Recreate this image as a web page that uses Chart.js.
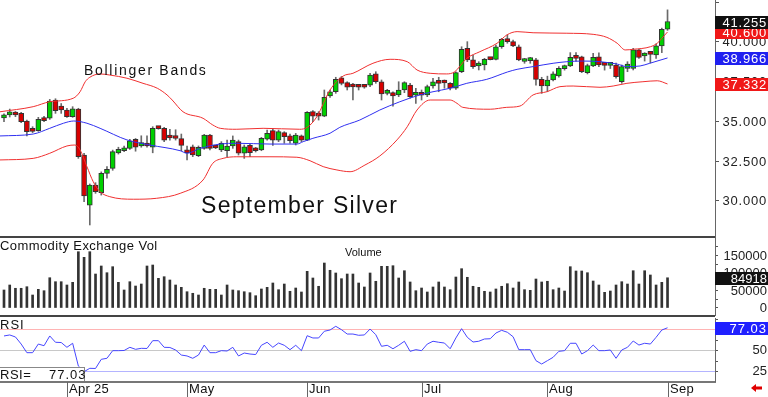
<!DOCTYPE html>
<html>
<head>
<meta charset="utf-8">
<script src="https://cdn.jsdelivr.net/npm/chart.js@4.4.1/dist/chart.umd.min.js"></script>
<style>
  body { margin: 0; background: #fff; }
  #wrap { position: relative; width: 768px; height: 397px; overflow: hidden; }
  canvas { position: absolute; left: 0; }
</style>
</head>
<body>
<div id="wrap">
  <canvas id="price" width="768" height="238" style="top:0"></canvas>
  <canvas id="vol" width="768" height="80" style="top:238px"></canvas>
  <canvas id="rsi" width="768" height="79" style="top:318px"></canvas>
</div>
<script>
// September silver, daily bars Mar 17 .. Sep 2 (index 0..116)
const opens = [35.20, 35.38, 35.52, 35.48, 35.00, 34.48, 34.39, 35.17, 35.17, 36.32,
  35.94, 35.69, 35.27, 35.75, 32.86, 29.71, 30.97, 30.49, 31.71, 32.02,
  33.00, 33.13, 33.28, 33.85, 33.43, 33.60, 33.35, 34.58, 34.54, 34.06,
  34.00, 33.89, 33.10, 33.38, 32.82, 33.28, 34.12, 33.34, 33.18, 33.13,
  33.43, 33.70, 32.97, 33.47, 33.26, 33.18, 33.85, 34.39, 33.80, 34.27,
  34.06, 33.60, 34.06, 33.80, 35.59, 35.48, 35.31, 36.57, 36.84, 37.72,
  37.41, 37.18, 37.18, 37.20, 37.26, 37.96, 37.47, 36.74, 36.78, 36.64,
  36.95, 37.26, 36.62, 36.74, 36.64, 37.20, 37.47, 37.43, 37.37, 37.06,
  38.10, 39.57, 38.84, 38.46, 38.52, 38.90, 38.88, 39.67, 40.09, 39.99,
  39.67, 38.74, 38.80, 38.84, 37.62, 37.20, 37.58, 37.83, 38.29, 38.46,
  39.04, 39.04, 38.04, 38.46, 39.04, 38.54, 38.50, 38.52, 37.47, 38.31,
  38.31, 39.47, 39.09, 39.23, 39.15, 39.72, 40.77];
const highs = [35.45, 35.75, 35.60, 35.55, 35.06, 34.64, 35.23, 35.30, 36.36, 36.40,
  36.10, 35.80, 35.90, 35.80, 32.97, 31.04, 31.12, 31.80, 32.13, 33.17,
  33.35, 33.42, 33.85, 33.90, 34.07, 34.07, 34.64, 34.64, 34.60, 34.48,
  34.45, 34.18, 33.43, 33.49, 33.43, 34.16, 34.16, 33.38, 33.70, 33.80,
  34.06, 33.80, 33.49, 33.55, 33.34, 33.97, 34.43, 34.54, 34.43, 34.33,
  34.18, 34.22, 34.12, 35.59, 35.65, 35.59, 36.95, 36.95, 37.75, 37.80,
  37.47, 37.37, 37.26, 37.26, 38.00, 38.10, 37.58, 36.99, 36.84, 37.47,
  37.47, 37.37, 37.06, 36.95, 37.26, 37.69, 37.75, 37.58, 37.41, 38.10,
  39.67, 39.99, 39.15, 38.73, 38.94, 39.00, 39.78, 40.20, 40.41, 40.09,
  39.78, 38.94, 39.00, 38.94, 37.75, 37.82, 38.10, 38.42, 38.52, 39.30,
  39.30, 39.08, 38.58, 39.25, 39.29, 38.65, 38.65, 38.65, 38.52, 38.73,
  39.57, 39.51, 39.30, 39.25, 39.85, 40.84, 41.99];
const lows = [34.95, 35.25, 35.27, 34.90, 34.06, 34.27, 34.35, 34.95, 35.10, 35.48,
  35.48, 35.22, 35.23, 32.65, 29.92, 28.46, 30.45, 30.34, 31.40, 31.90,
  32.92, 33.07, 33.22, 33.10, 33.35, 33.35, 33.00, 34.48, 33.70, 33.80,
  33.80, 33.13, 32.55, 32.76, 32.76, 33.22, 33.18, 33.26, 33.07, 32.72,
  33.28, 32.86, 32.65, 32.76, 33.05, 33.13, 33.80, 33.47, 33.70, 33.60,
  33.60, 33.49, 33.70, 33.76, 34.96, 35.06, 35.27, 36.49, 36.74, 37.27,
  36.95, 36.32, 36.95, 37.06, 37.16, 37.37, 36.32, 36.64, 35.94, 36.53,
  36.78, 36.43, 36.11, 36.32, 36.53, 37.06, 36.84, 37.06, 36.95, 36.99,
  38.04, 38.73, 38.31, 38.21, 38.21, 38.84, 38.84, 39.57, 39.89, 39.67,
  38.79, 38.63, 38.63, 37.26, 36.74, 36.84, 37.52, 37.75, 38.20, 38.42,
  38.77, 38.04, 37.96, 38.42, 38.42, 38.20, 38.30, 37.69, 37.37, 38.10,
  38.21, 38.94, 38.77, 38.65, 38.94, 39.30, 40.70];
const closes = [35.30, 35.58, 35.38, 34.96, 34.33, 34.35, 35.10, 35.02, 36.26, 35.65,
  35.69, 35.27, 35.77, 32.75, 30.28, 30.97, 30.55, 31.71, 31.96, 33.07,
  33.22, 33.28, 33.76, 33.35, 33.64, 33.43, 34.54, 34.52, 33.80, 33.93,
  33.90, 33.47, 33.00, 32.86, 33.34, 34.12, 33.28, 33.30, 33.60, 33.43,
  33.80, 32.97, 33.38, 33.01, 33.13, 33.91, 34.22, 33.80, 34.33, 34.01,
  33.76, 34.12, 33.80, 35.55, 35.31, 35.31, 36.49, 36.84, 37.62, 37.37,
  37.12, 37.14, 37.12, 37.12, 37.89, 37.47, 36.70, 36.91, 36.57, 36.95,
  37.41, 36.53, 36.78, 36.62, 37.16, 37.47, 37.37, 37.39, 37.06, 38.04,
  39.51, 38.84, 38.42, 38.58, 38.88, 38.86, 39.67, 40.14, 39.99, 39.72,
  38.84, 38.80, 38.86, 37.62, 37.20, 37.58, 37.96, 38.31, 38.46, 39.00,
  38.94, 38.10, 38.48, 39.00, 38.52, 38.50, 38.54, 37.79, 38.42, 38.58,
  39.47, 39.00, 39.26, 39.19, 39.72, 40.77, 41.255];

const volumes = [50000, 64300, 54900, 54900, 59400, 35700, 52000, 48000, 85100, 73700,
  73700, 64300, 72000, 159400, 143400, 159400, 95700, 118600, 99400, 116600,
  72000, 50000, 73700, 61400, 67100, 118600, 121400, 83400, 88000, 78600,
  64300, 57700, 45100, 40600, 35700, 54900, 52000, 52000, 35700, 64300,
  50000, 48000, 45100, 42300, 33700, 52900, 57700, 70000, 50900, 67100,
  46300, 55700, 44300, 103400, 84300, 60600, 127100, 106300, 98600, 82300,
  95700, 95700, 70000, 58600, 98600, 74900, 117700, 117700, 119400, 84300,
  105100, 72900, 48000, 55700, 44300, 58600, 72900, 58600, 50900, 87100,
  110900, 86300, 60600, 57700, 46300, 44300, 52900, 60600, 68000, 55700,
  72900, 50900, 49100, 81400, 72900, 74900, 50900, 55700, 47100, 116600,
  104300, 104300, 99400, 75700, 64300, 43400, 47100, 64300, 73700, 67100,
  105100, 67100, 105100, 92900, 64300, 72000, 84918];

const rsiValues = [67.3, 68.5, 66.1, 57.7, 47.4, 47.4, 57.7, 55.7, 67.3, 59.8,
  59.5, 53.8, 58.6, 31.5, 24.8, 28.8, 28.6, 39.5, 40.7, 49.8,
  49.8, 50.0, 53.8, 51.4, 52.6, 52.4, 61.7, 61.7, 53.8, 53.6,
  50.6, 44.6, 43.5, 40.7, 44.6, 56.5, 47.4, 47.4, 49.8, 49.4,
  53.8, 43.5, 47.0, 45.8, 45.2, 56.2, 59.8, 53.8, 58.9, 56.2,
  51.0, 56.2, 49.8, 67.6, 64.9, 64.9, 72.9, 74.4, 78.8, 74.8,
  69.6, 69.6, 68.1, 68.5, 75.6, 68.8, 55.0, 56.2, 52.1, 56.2,
  61.0, 49.0, 51.0, 49.8, 57.7, 61.0, 59.8, 58.9, 52.1, 64.9,
  76.0, 65.7, 60.1, 61.0, 63.7, 64.0, 70.8, 74.0, 71.7, 66.4,
  51.0, 51.0, 51.0, 37.9, 33.9, 37.9, 41.9, 49.0, 49.8, 58.6,
  58.6, 45.8, 49.8, 56.5, 49.8, 49.8, 50.6, 40.7, 50.6, 53.8,
  61.3, 56.5, 58.6, 57.7, 65.7, 74.4, 77.03];

// Bollinger bands as [bar index, price]
const upperBand = [[-0.7, 35.58], [5.1, 35.90], [8.0, 36.21], [12.1, 36.43], [13.3, 36.84], [14.2, 37.47],
  [15.0, 37.75], [16.8, 37.96], [18.5, 37.89], [21.5, 37.69], [24.3, 37.37], [26.8, 37.06], [28.5, 36.64],
  [29.4, 36.32], [31.3, 35.58], [34.8, 35.17], [36.5, 34.75], [37.8, 34.54], [40.7, 34.48], [45.3, 34.54],
  [51.7, 34.48], [53.0, 34.60], [54.7, 35.27], [57.0, 36.95], [59.3, 37.83], [61.0, 38.00], [64.5, 38.63],
  [67.5, 38.88], [70.5, 38.73], [72.2, 38.21], [74.5, 38.00], [77.4, 37.96], [78.8, 38.10], [80.9, 38.94],
  [83.2, 39.36], [86.2, 39.89], [87.9, 40.41], [89.7, 40.62], [92.5, 40.55], [98.4, 40.52], [103.0, 40.45],
  [105.4, 40.26], [107.2, 39.89], [108.6, 39.47], [110.0, 39.51], [113.0, 39.67], [114.2, 39.89],
  [115.0, 40.20], [116, 40.60]];
const midBand = [[-0.7, 34.06], [5.1, 34.18], [8.0, 34.54], [10.4, 34.86], [12.2, 35.00], [14.5, 34.86],
  [16.8, 34.54], [21.5, 33.81], [25.5, 33.49], [30.8, 33.13], [32.0, 32.97], [34.3, 33.28], [37.8, 33.55],
  [40.7, 33.60], [46.5, 33.55], [51.2, 33.55], [52.3, 33.70], [54.0, 33.91], [57.0, 34.23], [58.7, 34.60],
  [62.2, 35.06], [65.7, 35.69], [69.2, 36.21], [72.7, 36.64], [75.0, 36.84], [78.0, 37.06], [80.9, 37.37],
  [84.4, 37.62], [88.0, 38.08], [89.7, 38.25], [92.5, 38.42], [96.0, 38.63], [98.4, 38.73], [101.2, 38.77],
  [104.2, 38.73], [107.2, 38.58], [108.9, 38.42], [111.2, 38.46], [112.9, 38.63], [116, 38.966]];
const lowerBand = [[-0.7, 32.55], [5.1, 32.65], [8.0, 32.97], [11.0, 33.43], [12.4, 33.49], [13.3, 33.18],
  [14.5, 32.13], [15.6, 31.18], [16.8, 30.55], [18.5, 30.24], [22.6, 30.08], [26.7, 30.14], [30.8, 30.45],
  [34.8, 31.29], [36.5, 32.34], [38.3, 32.65], [40.7, 32.75], [46.5, 32.75], [51.2, 32.72], [53.5, 32.50],
  [55.8, 32.13], [58.2, 31.92], [60.5, 31.81], [63.1, 32.23], [65.7, 32.80], [68.7, 33.81], [70.5, 34.64],
  [72.2, 35.69], [74.5, 36.32], [78.0, 36.32], [79.2, 36.11], [80.2, 35.86], [85.0, 35.74], [87.9, 35.86],
  [90.2, 35.94], [92.5, 36.64], [94.9, 36.84], [97.2, 37.16], [99.5, 37.20], [104.2, 37.12], [106.5, 37.20],
  [108.9, 37.37], [111.7, 37.47], [114.2, 37.53], [116, 37.33]];

const monthIdx = [11, 32, 53, 73, 95, 116];
const monthLabels = ["Apr 25", "May", "Jun", "Jul", "Aug", "Sep"];
const priceTicks = [30, 32.5, 35, 37.5, 40];
const volTicks = [0, 50000, 100000, 150000];
const rsiTicks = [25, 50];
const rsiLevels = [75, 50, 25];
const lastUpper = 40.600, lastMid = 38.966, lastLower = 37.332;

const FONT = '"Liberation Sans", Arial, sans-serif';
const UP = "#00d000", DOWN = "#d80000";
const AXIS_X = 715;

function drawText(ctx, s, x, y, size, color, align, spacing) {
  ctx.font = size + "px " + FONT;
  ctx.fillStyle = color;
  ctx.textAlign = align || "left";
  ctx.textBaseline = "alphabetic";
  ctx.letterSpacing = (spacing || 0) + "px";
  ctx.fillText(s, x, y);
  ctx.letterSpacing = "0px";
}

function valueBox(ctx, text, y, bg) {
  const yy = Math.round(y);
  ctx.fillStyle = bg;
  ctx.fillRect(AXIS_X, yy - 6, 53, 13);
  drawText(ctx, text, 767, yy + 5, 13, "#fff", "right", 0.8);
}

function axisTicks(ctx, scale, values, len) {
  ctx.fillStyle = "#555";
  values.forEach(v => ctx.fillRect(AXIS_X + 1, Math.round(scale.getPixelForValue(v)), len, 1));
}

function baseOptions(yMin, yMax, padding) {
  return {
    responsive: false,
    animation: false,
    events: [],
    layout: { padding },
    plugins: { legend: { display: false }, tooltip: { enabled: false } },
    scales: {
      x: { type: "linear", min: -0.7, max: 124.3, offset: false, display: false },
      y: { min: yMin, max: yMax, display: false }
    }
  };
}

const toPts = arr => arr.map(p => ({ x: p[0], y: p[1] }));
const bandLine = (arr, color) => ({
  type: "line", data: toPts(arr), borderColor: color, borderWidth: 1,
  pointRadius: 0, cubicInterpolationMode: "monotone", order: 0
});

// ---- price panel ----
const bodies = closes.map((c, i) => ({ x: i, y: [opens[i], c] }));
const wicks = closes.map((c, i) => ({ x: i, y: [lows[i], highs[i]] }));
const bodyColors = closes.map((c, i) => c >= opens[i] ? UP : DOWN);

const pricePlugin = {
  id: "priceDeco",
  afterDraw(chart) {
    const ctx = chart.ctx, y = chart.scales.y;
    ctx.save();
    ctx.fillStyle = "#444";
    ctx.fillRect(0, 236, AXIS_X, 2);
    ctx.fillStyle = "#666";
    ctx.fillRect(AXIS_X, 0, 1, 238);
    axisTicks(ctx, y, [30, 32.5, 35, 37.5, 40, 42.5], 3);
    priceTicks.forEach(v => drawText(ctx, v.toFixed(3), 767, Math.round(y.getPixelForValue(v)) + 5, 13, "#222", "right", 0.8));
    valueBox(ctx, lastLower.toFixed(3), y.getPixelForValue(lastLower), "#f01818");
    valueBox(ctx, lastMid.toFixed(3), y.getPixelForValue(lastMid), "#2020f0");
    valueBox(ctx, lastUpper.toFixed(3), y.getPixelForValue(lastUpper), "#f01818");
    valueBox(ctx, closes[closes.length - 1].toFixed(3), y.getPixelForValue(closes[closes.length - 1]), "#111");
    drawText(ctx, "Bollinger Bands", 84, 75, 14, "#111", "left", 1.7);
    drawText(ctx, "September Silver", 201, 213, 23, "#111", "left", 1.3);
    ctx.restore();
  }
};

new Chart(document.getElementById("price"), {
  type: "bar",
  data: {
    datasets: [
      bandLine(upperBand, "#f03030"),
      bandLine(midBand, "#3030f0"),
      bandLine(lowerBand, "#f03030"),
      { data: bodies, backgroundColor: bodyColors, borderColor: "#333", borderWidth: 1,
        borderSkipped: false, barThickness: 5, minBarLength: 3, grouped: false, order: 1 },
      { data: wicks, backgroundColor: "#6a6a6a", barThickness: 1, grouped: false, order: 2 }
    ]
  },
  options: baseOptions(27.767, 42.610, { top: 0, right: 53, bottom: 2, left: 0 }),
  plugins: [pricePlugin]
});

// ---- volume panel ----
const volPlugin = {
  id: "volDeco",
  afterDraw(chart) {
    const ctx = chart.ctx, y = chart.scales.y;
    ctx.save();
    ctx.fillStyle = "#444";
    ctx.fillRect(0, 77, AXIS_X, 2);
    ctx.fillStyle = "#666";
    ctx.fillRect(AXIS_X, 0, 1, 78);
    axisTicks(ctx, y, [0, 25000, 50000, 75000, 100000, 125000, 150000, 175000], 2);
    drawText(ctx, "Commodity Exchange Vol", 0, 11.5, 13, "#111", "left", 0.4);
    drawText(ctx, "Volume", 345, 18, 11, "#111", "left", 0);
    volTicks.forEach(v => drawText(ctx, String(v), 767, Math.round(y.getPixelForValue(v)) + 5, 13, "#222", "right", 0));
    const last = volumes[volumes.length - 1];
    const yy = Math.round(y.getPixelForValue(last));
    ctx.fillStyle = "#111";
    ctx.fillRect(AXIS_X, yy - 6, 53, 13);
    drawText(ctx, String(last), 767, yy + 5, 13, "#fff", "right", 0);
    ctx.restore();
  }
};

new Chart(document.getElementById("vol"), {
  type: "bar",
  data: {
    datasets: [{
      data: volumes.map((v, i) => ({ x: i, y: v })),
      backgroundColor: "#333", barThickness: 2, grouped: false
    }]
  },
  options: baseOptions(-21429, 198571, { top: 0, right: 53, bottom: 3, left: 0 }),
  plugins: [volPlugin]
});

// ---- RSI panel ----
const rsiPlugin = {
  id: "rsiDeco",
  beforeDatasetsDraw(chart) {
    const ctx = chart.ctx, y = chart.scales.y;
    const colors = ["#ffb4b4", "#c8c8c8", "#b4b4ff"];
    ctx.save();
    rsiLevels.forEach((v, k) => {
      ctx.fillStyle = colors[k];
      ctx.fillRect(0, Math.round(y.getPixelForValue(v)), AXIS_X, 1);
    });
    ctx.restore();
  },
  afterDraw(chart) {
    const ctx = chart.ctx, y = chart.scales.y, x = chart.scales.x;
    ctx.save();
    // RSI readout box
    ctx.fillStyle = "#fff";
    ctx.fillRect(0, 49, 85, 15);
    ctx.strokeStyle = "#888";
    ctx.lineWidth = 1;
    ctx.strokeRect(-0.5, 49.5, 85, 15);
    drawText(ctx, "RSI=", 0, 61, 13, "#111", "left", 0.5);
    drawText(ctx, rsiValues[rsiValues.length - 1].toFixed(2), 49, 61, 13, "#111", "left", 1);
    drawText(ctx, "RSI", 0, 11, 13, "#111", "left", 1);
    // frame
    ctx.fillStyle = "#777";
    ctx.fillRect(0, 63, AXIS_X + 1, 2);
    ctx.fillStyle = "#666";
    ctx.fillRect(AXIS_X, 0, 1, 64);
    axisTicks(ctx, y, [25, 37.5, 50, 62.5, 75, 87.5], 2);
    rsiTicks.forEach(v => drawText(ctx, String(v), 767, Math.round(y.getPixelForValue(v)) + 4, 13, "#222", "right", 0));
    const lastR = rsiValues[rsiValues.length - 1];
    const ry = Math.round(y.getPixelForValue(lastR));
    ctx.fillStyle = "#2020ff";
    ctx.fillRect(AXIS_X, ry - 6, 53, 13);
    drawText(ctx, lastR.toFixed(2), 767, ry + 5, 13, "#fff", "right", 1);
    // month axis
    monthIdx.forEach((m, k) => {
      const px = Math.round(x.getPixelForValue(m));
      ctx.fillStyle = "#666";
      ctx.fillRect(px, 64, 1, 15);
      drawText(ctx, monthLabels[k], px + 2, 75, 13, "#111", "left", 0.3);
    });
    // red scroll arrow
    ctx.fillStyle = "#e00000";
    ctx.beginPath();
    ctx.moveTo(751, 70);
    ctx.lineTo(756, 66);
    ctx.lineTo(756, 68.5);
    ctx.lineTo(762, 68.5);
    ctx.lineTo(762, 71.5);
    ctx.lineTo(756, 71.5);
    ctx.lineTo(756, 74);
    ctx.closePath();
    ctx.fill();
    ctx.restore();
  }
};

new Chart(document.getElementById("rsi"), {
  type: "line",
  data: {
    datasets: [{
      data: rsiValues.map((v, i) => ({ x: i, y: v })),
      borderColor: "#4646ff", borderWidth: 1, pointRadius: 0, tension: 0
    }]
  },
  options: baseOptions(13.69, 88.69, { top: 0, right: 53, bottom: 16, left: 0 }),
  plugins: [rsiPlugin]
});
</script>
</body>
</html>
